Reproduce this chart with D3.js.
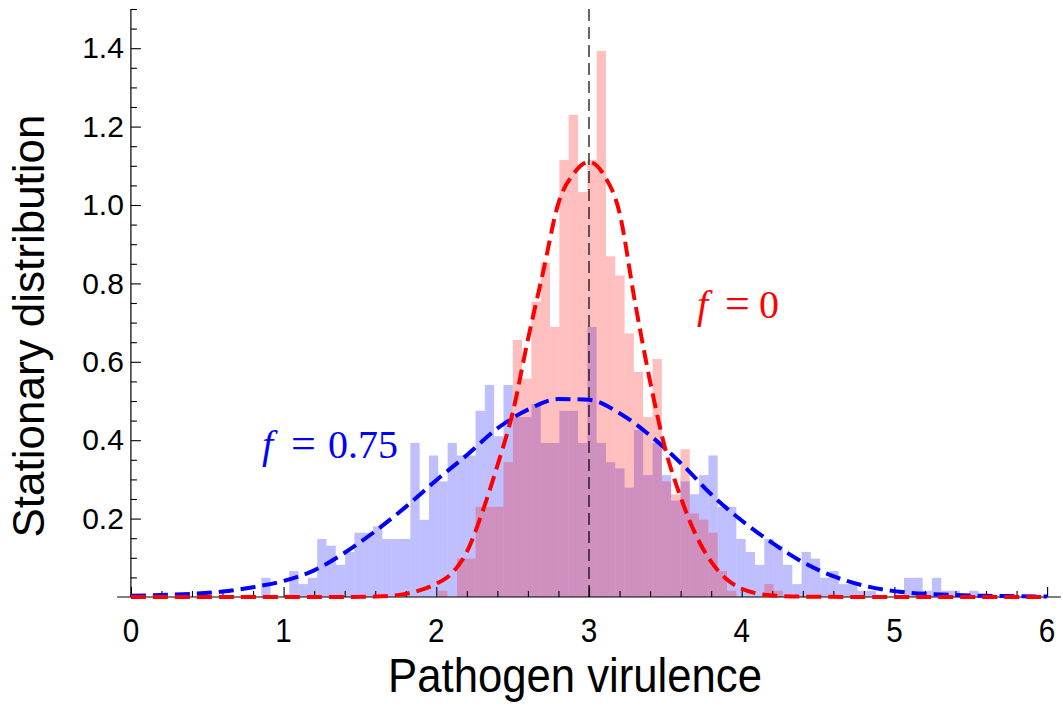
<!DOCTYPE html>
<html><head><meta charset="utf-8">
<script src="https://cdn.jsdelivr.net/npm/d3@7"></script>
<style>body{margin:0;background:#fff}svg{display:block}</style>
</head><body>
<svg id="chart" width="1063" height="706"></svg>
<script>
// ---- data ----
const binWidth = 0.061;            // histogram bin width (x units)
const blueStartBin = 14;           // first non-empty bin, f = 0.75
const blueDensity = [0.049,0,0,0.066,0.033,0.049,0.148,0.131,0.082,0.115,0.164,0.164,0.180,0.148,0.148,0.148,
  0.393,0.197,0.361,0.295,0.393,0.361,0.361,0.475,0.541,0.410,0.541,0.459,0.459,0.492,0.393,0.393,0.475,0.475,
  0.393,0.689,0.393,0.344,0.328,0.279,0.426,0.311,0.393,0.311,0.246,0.295,0.262,0.311,0.361,0.230,0.230,0.148,
  0.115,0.082,0.148,0.131,0.082,0.033,0.115,0.098,0.049,0.066,0.033,0.033,0.016,0.016,0,0,0,0.049,0.049,0.016,
  0.049,0.016,0.016,0,0.016];
const redStartBin = 33;            // first non-empty bin, f = 0
const redDensity = [0.016,0,0.098,0.098,0.230,0.230,0.230,0.344,0.656,0.557,0.754,0.852,0.689,1.115,1.230,1.033,
  1.115,1.393,0.869,0.820,0.672,0.574,0.459,0.607,0.295,0.262,0.377,0.213,0.197,0.164,0.066,0.016,0,0,0,0.033,0.016];

const blueCurveX = [0,0.2,0.4,0.6,0.8,1.0,1.2,1.4,1.6,1.8,2.0,2.2,2.4,2.6,2.8,3.0,3.2,3.4,3.6,3.8,4.0,4.2,4.4,4.6,4.8,5.0,5.2,5.4,5.6,5.8,6.0];
const blueCurveY = [0.003,0.005,0.008,0.014,0.025,0.041,0.068,0.113,0.168,0.230,0.298,0.362,0.430,0.478,0.505,0.503,0.469,0.412,0.342,0.262,0.195,0.138,0.089,0.053,0.029,0.015,0.008,0.005,0.003,0.002,0.001];
const redCurveX = [0,0.5,1.0,1.4,1.6,1.7,1.8,1.9,2.0,2.1,2.2,2.3,2.4,2.5,2.6,2.7,2.8,2.9,3.0,3.1,3.2,3.3,3.4,3.5,3.6,3.7,3.8,3.9,4.0,4.1,4.2,4.4,4.8,5.2,6.0];
const redCurveY = [0,0,0,0,0.001,0.003,0.008,0.018,0.034,0.060,0.115,0.215,0.335,0.470,0.657,0.830,1.005,1.080,1.110,1.075,0.980,0.755,0.550,0.377,0.255,0.158,0.090,0.046,0.021,0.009,0.004,0.001,0,0,0];

const optimumX = 3;
const xTicks = [0,1,2,3,4,5,6];
const yTicks = [0.2,0.4,0.6,0.8,1.0,1.2,1.4];
const xLabel = "Pathogen virulence";
const yLabel = "Stationary distribution";
const annotations = [
  {name: "f", value: "0.75", color: "#0000ff", x: 262, y: 458, eqX: 291, valX: 328},
  {name: "f", value: "0", color: "#ff0000", x: 697, y: 318, eqX: 725, valX: 759}
];

// ---- drawing ----
const svg = d3.select("#chart");
const x = d3.scaleLinear().domain([0, 6]).range([130.9, 1047.1]);
const y = d3.scaleLinear().domain([0, 1.5]).range([597, 9]);

function bars(start, vals) {
  return vals.map((v, i) => ({x0: (start + i) * binWidth, x1: (start + i + 1) * binWidth, v}));
}
svg.append("g").selectAll("rect").data(bars(blueStartBin, blueDensity).filter(d => d.v > 0))
  .join("rect")
  .attr("x", d => x(d.x0)).attr("width", d => x(d.x1) - x(d.x0))
  .attr("y", d => y(d.v)).attr("height", d => y(0) - y(d.v))
  .attr("fill", "#0000ff").attr("fill-opacity", 0.25);
svg.append("g").selectAll("rect").data(bars(redStartBin, redDensity).filter(d => d.v > 0))
  .join("rect")
  .attr("x", d => x(d.x0)).attr("width", d => x(d.x1) - x(d.x0))
  .attr("y", d => y(d.v)).attr("height", d => y(0) - y(d.v))
  .attr("fill", "#ff0000").attr("fill-opacity", 0.25);

// optimum line
svg.append("line")
  .attr("x1", x(optimumX)).attr("x2", x(optimumX))
  .attr("y1", y(1.5)).attr("y2", y(0))
  .attr("stroke", "#000").attr("stroke-width", 1.2).attr("stroke-dasharray", "12,6");

// axes
const fontSans = "'Liberation Sans', Arial, sans-serif";
const minorX = d3.range(0, 6.001, 0.2).filter(v => Math.abs(v - Math.round(v)) > 1e-6);
const minorY = d3.range(0.05, 1.501, 0.05).filter(v => Math.abs(v * 5 - Math.round(v * 5)) > 1e-6);

const gx = svg.append("g").attr("transform", `translate(0,${y(0)})`);
gx.call(d3.axisBottom(x).tickValues(xTicks).tickFormat("").tickSizeInner(-10).tickSizeOuter(0));
gx.append("g").call(d3.axisBottom(x).tickValues(minorX).tickFormat("").tickSizeInner(-6).tickSizeOuter(0));
gx.selectAll(".domain").remove();
gx.selectAll("line").attr("stroke", "#000").attr("stroke-width", 1.1);
gx.selectAll("text").remove();
svg.append("g").selectAll("text").data(xTicks).join("text")
  .attr("transform", d => `translate(${x(d)},642) scale(0.9,1)`)
  .attr("text-anchor", "middle").attr("font-family", fontSans).attr("font-size", 33)
  .attr("fill", "#000").text(d3.format("d"));

const gy = svg.append("g").attr("transform", `translate(${x(0)},0)`);
gy.call(d3.axisLeft(y).tickValues(yTicks).tickFormat(d3.format(".1f")).tickSizeInner(-10).tickSizeOuter(0).tickPadding(7));
gy.append("g").call(d3.axisLeft(y).tickValues(minorY).tickFormat("").tickSizeInner(-6).tickSizeOuter(0));
gy.selectAll(".domain").remove();
gy.selectAll("line").attr("stroke", "#000").attr("stroke-width", 1.1);
gy.selectAll("text").attr("font-family", fontSans).attr("font-size", 30).attr("fill", "#000");

svg.append("line").attr("x1", x(-0.09)).attr("x2", x(6.09)).attr("y1", y(0)).attr("y2", y(0))
  .attr("stroke", "#000").attr("stroke-width", 1.2);
svg.append("line").attr("x1", x(0)).attr("x2", x(0)).attr("y1", y(0)).attr("y2", y(1.5))
  .attr("stroke", "#000").attr("stroke-width", 1.2);

// fitted curves
const line = d3.line().x(d => x(d[0])).y(d => y(d[1])).curve(d3.curveMonotoneX);
svg.append("path").datum(blueCurveX.map((v, i) => [v, blueCurveY[i]]))
  .attr("d", line).attr("fill", "none").attr("stroke", "#0000ff").attr("stroke-width", 4)
  .attr("stroke-dasharray", "15,7");
svg.append("path").datum(redCurveX.map((v, i) => [v, redCurveY[i]]))
  .attr("d", line).attr("fill", "none").attr("stroke", "#ff0000").attr("stroke-width", 4)
  .attr("stroke-dasharray", "15,7");

// titles
svg.append("text").attr("transform", "translate(575,692) scale(0.91,1)").attr("text-anchor", "middle")
  .attr("font-family", fontSans).attr("font-size", 48).attr("fill", "#000").text(xLabel);
svg.append("text").attr("transform", "translate(44,326) rotate(-90)").attr("text-anchor", "middle")
  .attr("font-family", fontSans).attr("font-size", 44).attr("fill", "#000").text(yLabel);

// annotations
const serif = "'Liberation Serif', 'Times New Roman', serif";
annotations.forEach(a => {
  const g = svg.append("g").attr("font-family", serif).attr("fill", a.color);
  g.append("text").attr("x", a.x).attr("y", a.y).attr("font-size", 40).attr("font-style", "italic").text(a.name);
  g.append("text").attr("x", a.eqX).attr("y", a.y).attr("font-size", 44).text("=");
  g.append("text").attr("x", a.valX).attr("y", a.y).attr("font-size", 40).text(a.value);
});
</script>
</body></html>
